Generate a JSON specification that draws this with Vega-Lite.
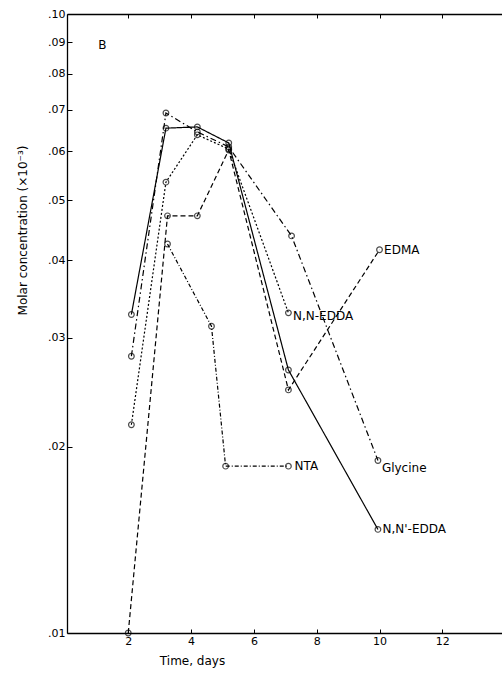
{
  "$schema": "https://vega.github.io/schema/vega-lite/v6.json",
  "width": 435,
  "height": 619,
  "autosize": {"type": "none"},
  "padding": {"left": 67, "top": 14, "right": 0, "bottom": 42},
  "background": "white",
  "config": {
    "view": {"stroke": null},
    "font": "DejaVu Sans",
    "axis": {
      "grid": false,
      "domain": true,
      "domainColor": "black",
      "domainWidth": 1.3,
      "tickColor": "black",
      "labelColor": "black",
      "titleColor": "black",
      "labelFont": "DejaVu Sans",
      "titleFont": "DejaVu Sans",
      "titleFontWeight": "normal",
      "labelFontSize": 11,
      "titleFontSize": 12
    }
  },
  "datasets": {
    "series": [
      {"series": "N,N'-EDDA", "day": 2.1, "conc": 0.0327},
      {"series": "N,N'-EDDA", "day": 3.2, "conc": 0.0654},
      {"series": "N,N'-EDDA", "day": 4.2, "conc": 0.0657},
      {"series": "N,N'-EDDA", "day": 5.2, "conc": 0.0619},
      {"series": "N,N'-EDDA", "day": 7.1, "conc": 0.0266},
      {"series": "N,N'-EDDA", "day": 9.95, "conc": 0.0147},
      {"series": "N,N-EDDA", "day": 2.1, "conc": 0.0217},
      {"series": "N,N-EDDA", "day": 3.2, "conc": 0.0535},
      {"series": "N,N-EDDA", "day": 4.2, "conc": 0.0638},
      {"series": "N,N-EDDA", "day": 5.2, "conc": 0.0605},
      {"series": "N,N-EDDA", "day": 7.1, "conc": 0.0329},
      {"series": "Glycine", "day": 2.1, "conc": 0.028},
      {"series": "Glycine", "day": 3.2, "conc": 0.0692},
      {"series": "Glycine", "day": 4.2, "conc": 0.0645},
      {"series": "Glycine", "day": 5.2, "conc": 0.061},
      {"series": "Glycine", "day": 7.2, "conc": 0.0438},
      {"series": "Glycine", "day": 9.95, "conc": 0.019},
      {"series": "EDMA", "day": 2.0, "conc": 0.01},
      {"series": "EDMA", "day": 3.25, "conc": 0.0472},
      {"series": "EDMA", "day": 4.2, "conc": 0.0472},
      {"series": "EDMA", "day": 5.2, "conc": 0.0603},
      {"series": "EDMA", "day": 7.1, "conc": 0.0247},
      {"series": "EDMA", "day": 10.0, "conc": 0.0416},
      {"series": "NTA", "day": 3.25, "conc": 0.0425},
      {"series": "NTA", "day": 4.65, "conc": 0.0313},
      {"series": "NTA", "day": 5.1, "conc": 0.0186},
      {"series": "NTA", "day": 7.1, "conc": 0.0186}
    ],
    "labels": [
      {"label": "EDMA", "day": 10.05, "conc": 0.0416},
      {"label": "N,N-EDDA", "day": 7.15, "conc": 0.0325},
      {"label": "Glycine", "day": 9.98, "conc": 0.0185},
      {"label": "NTA", "day": 7.2, "conc": 0.0186},
      {"label": "N,N'-EDDA", "day": 10.0, "conc": 0.0147},
      {"label": "B", "day": 0.95, "conc": 0.089}
    ]
  },
  "layer": [
    {
      "data": {"name": "series"},
      "mark": {"type": "line", "color": "black", "strokeWidth": 1.2},
      "encoding": {
        "x": {
          "field": "day", "type": "quantitative",
          "scale": {"domain": [0.05, 13.9], "nice": false, "zero": false},
          "axis": {
            "orient": "bottom",
            "values": [2, 4, 6, 8, 10, 12],
            "tickSize": -4,
            "labelPadding": 6,
            "title": "Time, days",
            "titleX": 125,
            "titleY": 27,
            "titleAlign": "center",
            "titleBaseline": "middle"
          }
        },
        "y": {
          "field": "conc", "type": "quantitative",
          "scale": {"type": "log", "domain": [0.01, 0.1], "nice": false},
          "axis": {
            "orient": "left",
            "domain": true,
            "values": [0.01, 0.02, 0.03, 0.04, 0.05, 0.06, 0.07, 0.08, 0.09, 0.1],
            "labelExpr": "slice(format(datum.value, '.2f'), 1)",
            "tickSize": -5,
            "labelPadding": 7,
            "title": "Molar concentration (×10⁻³)",
            "titleX": -45,
            "titleY": 216,
            "titleAlign": "center",
            "titleBaseline": "middle"
          }
        },
        "detail": {"field": "series"},
        "strokeDash": {
          "field": "series", "type": "nominal", "legend": null,
          "scale": {
            "domain": ["N,N'-EDDA", "N,N-EDDA", "Glycine", "EDMA", "NTA"],
            "range": [[1, 0], [2, 2], [6, 3, 1.5, 3], [5, 3], [4, 2, 1, 2]]
          }
        }
      }
    },
    {
      "data": {"name": "series"},
      "mark": {"type": "point", "shape": "circle", "filled": false, "color": "black", "size": 32, "strokeWidth": 1.2},
      "encoding": {
        "x": {
          "field": "day", "type": "quantitative",
          "axis": {
            "orient": "top",
            "values": [2, 4, 6, 8, 10, 12],
            "labels": false,
            "tickSize": -4,
            "title": null
          }
        },
        "y": {"field": "conc", "type": "quantitative"}
      }
    },
    {
      "data": {"name": "labels"},
      "mark": {"type": "text", "align": "left", "baseline": "middle", "dx": 3, "fontSize": 12, "font": "DejaVu Sans", "color": "black"},
      "encoding": {
        "x": {"field": "day", "type": "quantitative", "axis": null},
        "y": {"field": "conc", "type": "quantitative"},
        "text": {"field": "label"}
      }
    }
  ],
  "resolve": {"axis": {"x": "independent"}}
}
